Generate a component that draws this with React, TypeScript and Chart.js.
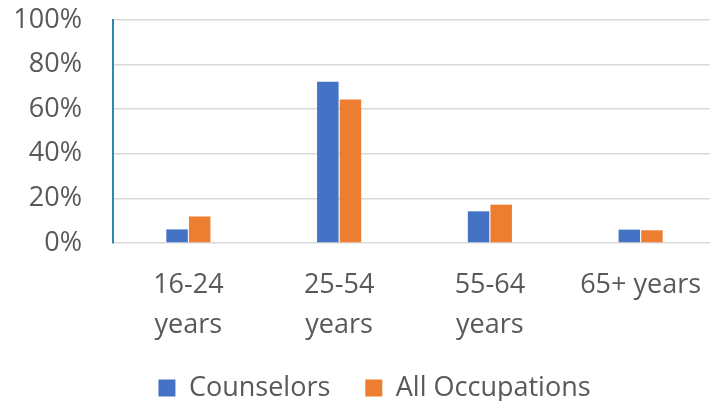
import React, { useEffect, useRef } from "react";
import { Chart, registerables } from "chart.js";

Chart.register(...registerables);

const categories: (string | string[])[] = [
  ["16-24", "years"],
  ["25-54", "years"],
  ["55-64", "years"],
  "65+ years",
];
const seriesNames = ["Counselors", "All Occupations"];
const counselors = [6.1, 72.3, 14.2, 6.0];
const allOccupations = [11.9, 64.3, 17.2, 5.7];
const yMin = 0;
const yMax = 100;
const yStep = 20;

const FONT = "'Open Sans', sans-serif";
const TEXT = "#595959";
const X_AXIS_TRIM = 43;

const layoutTweak = {
  id: "layoutTweak",
  afterLayout(chart: any) {
    const lg = chart.legend;
    if (lg) {
      lg.left += 20;
      lg.top += 14.5;
      lg.bottom += 14.5;
    }
    const xs = chart.scales.x;
    if (xs) {
      // let the tick labels draw over the trimmed space
      xs.bottom += X_AXIS_TRIM;
    }
  },
};

export default function App() {
  const ref = useRef<HTMLCanvasElement | null>(null);

  useEffect(() => {
    if (!ref.current) return;
    const chart = new Chart(ref.current, {
      type: "bar",
      data: {
        labels: categories,
        datasets: [
          {
            label: seriesNames[0],
            data: counselors,
            backgroundColor: "#4472C4",
            borderWidth: 0,
            barPercentage: 0.95,
            categoryPercentage: 0.3,
          },
          {
            label: seriesNames[1],
            data: allOccupations,
            backgroundColor: "#ED7D31",
            borderWidth: 0,
            barPercentage: 0.95,
            categoryPercentage: 0.3,
          },
        ],
      },
      options: {
        animation: false,
        responsive: false,
        maintainAspectRatio: false,
        devicePixelRatio: 1,
        layout: { padding: { left: 13, top: 20, right: 0, bottom: 4 } },
        plugins: {
          tooltip: { enabled: false },
          legend: {
            position: "bottom",
            align: "center",
            labels: {
              boxWidth: 17,
              boxHeight: 17,
              padding: 35,
              color: TEXT,
              font: { family: FONT, size: 27 },
            },
          },
        },
        scales: {
          x: {
            grid: { display: false, drawTicks: false },
            border: { display: false },
            ticks: {
              color: TEXT,
              font: { family: FONT, size: 27, lineHeight: 1.5 },
              padding: 22,
              maxRotation: 0,
              autoSkip: false,
            },
            afterFit: (scale: any) => {
              scale.paddingLeft = 0;
              scale.paddingRight = 0;
              scale.height = scale.height - X_AXIS_TRIM;
            },
          },
          y: {
            min: yMin,
            max: yMax,
            grid: { color: "#D9D9D9", lineWidth: 1.5, drawTicks: false },
            border: { display: true, color: "#2E86B5", width: 2 },
            ticks: {
              stepSize: yStep,
              autoSkip: false,
              color: TEXT,
              font: { family: FONT, size: 27, lineHeight: 1.0 },
              padding: 31,
              callback: (v: any) => v + "%",
            },
            afterFit: (scale: any) => {
              scale.paddingTop = 0;
              scale.paddingBottom = 0;
              scale.width = 100;
            },
          },
        },
      },
      plugins: [layoutTweak],
    });
    return () => chart.destroy();
  }, []);

  return (
    <div
      style={{
        position: "absolute",
        left: 0,
        top: 0,
        width: 710,
        height: 401,
        overflow: "hidden",
        background: "#fff",
      }}
    >
      <canvas ref={ref} width={716} height={401} style={{ display: "block" }} />
    </div>
  );
}
